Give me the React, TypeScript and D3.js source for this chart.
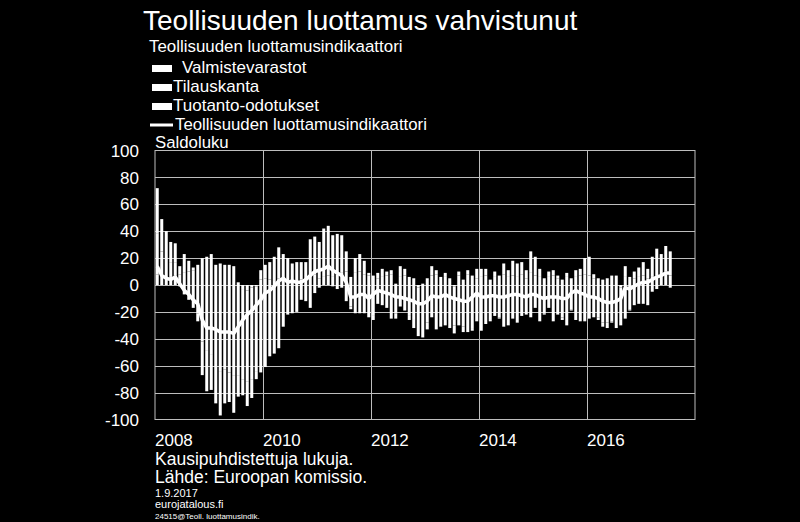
import React from 'react';
import * as d3 from 'd3';

// monthly data, Jan 2008 -> Jul 2017
const firstYear = 2008;

const valmistevarastot = [
  8, 6, 5, 6, 7, 8, 9, 10, 11, 15,
  20, 21, 23, 15, 16, 15, 15, 14, 2, -3,
  -4, -2, -1, 4, 5, 4, 3, 5, 4, 3,
  2, 3, 4, 3, 6, 8, 5, 6, 7, 6,
  8, 9, 10, 6, 9, 10, 8, 7, 7, 5,
  6, 7, 8, 1, 6, 7, 6, 5, -2, 1,
  5, 7, 8, 6, 6, 5, -1, 7, 4, 8,
  7, 5, 6, 7, 4, 6, 7, 8, 6, 7,
  6, 8, 5, 9, 7, 6, 5, 6, 7, 5,
  4, 6, 5, 6, 7, 8, 7, 5, 5, 4,
  5, 7, 7, -2, 6, 6, 5, 6, 7, 5,
  6, 7, 6, 8, 7,
];

const tilauskanta = [
  30, 19, 15, 11, 10, -1, -7, -11, -17, -21,
  -42, -49, -52, -58, -64, -63, -65, -67, -67, -67,
  -68, -68, -63, -65, -61, -53, -51, -47, -31, -22,
  -21, -20, -11, -12, -17, -6, -2, 6, 6, -1,
  -3, -2, -12, -16, -21, -21, -21, -24, -23, -14,
  -15, -17, -25, -21, -16, -19, -23, -26, -27, -29,
  -28, -24, -33, -29, -30, -29, -29, -30, -31, -35,
  -32, -27, -34, -29, -26, -23, -24, -31, -30, -25,
  -28, -23, -22, -24, -17, -27, -21, -17, -27, -22,
  -24, -30, -18, -26, -27, -27, -25, -24, -24, -28,
  -28, -27, -29, -24, -25, -18, -15, -14, -14, -15,
  -5, -3, 1, 2, -2,
];

const tuotantoOdotukset = [
  34, 24, 20, 15, 14, 6, 14, 8, 2, -6,
  -25, -30, -26, -30, -33, -25, -22, -28, -16, -12,
  -18, -14, -6, 7, 10, 13, 18, 23, 19, 17,
  14, 14, 13, 14, 28, 28, 27, 30, 31, 31,
  30, 28, 15, -2, 11, 13, 10, 2, -3, 4,
  6, 3, 3, -4, 8, 5, -3, -6, -9, -10,
  -5, 7, 3, -2, 3, -3, -6, 3, -4, 3,
  -2, 7, 6, 5, -1, 4, -1, 8, 5, 11,
  10, 9, 6, 16, 14, 6, -1, 4, 4, 2,
  -2, 3, -1, 5, 5, 12, 14, 3, -2, -3,
  -4, -1, -3, -4, 8, -1, 5, 7, 10, 7,
  15, 20, 16, 19, 18,
];

const luottamus = [
  14, 7, 5, 4, 6, 1, -4, -7, -11, -14,
  -26, -32, -32, -33, -35, -35, -35, -36, -31, -26,
  -22, -19, -15, -11, -6, -4, -1, 3, 5, 2,
  3, 2, 2, 4, 7, 10, 11, 12, 14, 11,
  9, 7, 2, -9, -9, -7, -7, -10, -7, -4,
  -5, -6, -7, -9, -9, -10, -11, -12, -14, -14,
  -12, -8, -9, -9, -7, -9, -10, -11, -12, -12,
  -9, -6, -9, -9, -8, -8, -9, -9, -8, -7,
  -7, -8, -9, -7, -7, -9, -10, -9, -9, -9,
  -10, -10, -6, -4, -6, -7, -9, -9, -10, -12,
  -13, -13, -12, -10, -2, -3, -1, 1, 2, 2,
  4, 6, 7, 9, 9,
];

const yTicks = [100, 80, 60, 40, 20, 0, -20, -40, -60, -80, -100];
const yearLabels = [2008, 2010, 2012, 2014, 2016];

const legendBars = ['Valmistevarastot', 'Tilauskanta', 'Tuotanto-odotukset'];

const font = "'Liberation Sans', Arial, sans-serif";
const gridColor = '#bdbdbd';

export default function App() {
  const left = 155, right = 695, top = 150.5, bottom = 419.5;

  // x in months since Jan 2008, ten years on the axis
  const x = d3.scaleLinear().domain([0, 120]).range([left, right]);
  const y = d3.scaleLinear().domain([-100, 100]).range([bottom, top]);

  const rows = luottamus.map((_, i) => ({
    i,
    valmistevarastot: valmistevarastot[i],
    tilauskanta: tilauskanta[i],
    tuotanto: tuotantoOdotukset[i],
  }));

  const stacked = d3.stack<any>()
    .keys(['valmistevarastot', 'tilauskanta', 'tuotanto'])
    .offset(d3.stackOffsetDiverging)(rows);

  const monthW = x(1) - x(0);
  const barW = 3;

  const linePath = d3.line<number>()
    .x((_, i) => x(i + 0.5))
    .y(v => y(v))(luottamus);

  return (
    <div style={{ position: 'fixed', left: 0, top: 0, width: 800, height: 522, background: '#000' }}>
      <svg width={800} height={522} style={{ display: 'block' }} fontFamily={font}>
        <rect x={0} y={0} width={800} height={522} fill="#000" />

        <text x={143} y={30} fill="#fff" fontSize={28}>Teollisuuden luottamus vahvistunut</text>
        <text x={149} y={52} fill="#fff" fontSize={16.9}>Teollisuuden luottamusindikaattori</text>

        {legendBars.map((name, i) => (
          <g key={name}>
            <rect x={152} y={65 + i * 19} width={20} height={7} fill="#fff" />
            <text x={i === 0 ? 182 : 173} y={73 + i * 19} fill="#fff" fontSize={17}>{name}</text>
          </g>
        ))}
        <line x1={150} x2={173} y1={125} y2={125} stroke="#fff" strokeWidth={3} />
        <text x={175} y={130} fill="#fff" fontSize={16.8}>Teollisuuden luottamusindikaattori</text>
        <text x={155} y={148} fill="#fff" fontSize={16.8}>Saldoluku</text>

        {/* grid */}
        {yTicks.filter(t => t !== 100 && t !== -100).map(t => (
          <line key={t} x1={left} x2={right} y1={Math.round(y(t)) + 0.5} y2={Math.round(y(t)) + 0.5} stroke={gridColor} strokeWidth={1} />
        ))}
        {yearLabels.filter(yr => yr !== firstYear).map(yr => {
          const xx = Math.round(x((yr - firstYear) * 12)) + 0.5;
          return <line key={yr} x1={xx} x2={xx} y1={top} y2={bottom} stroke={gridColor} strokeWidth={1} />;
        })}
        <rect x={left} y={top} width={right - left} height={bottom - top} fill="none" stroke={gridColor} strokeWidth={1} />

        {/* bars */}
        {stacked.map(s => (
          <g key={s.key} fill="#fff">
            {s.map((d, i) => d[1] === d[0] ? null : (
              <rect key={i}
                x={x(i) + (monthW - barW) / 2}
                width={barW}
                y={y(Math.max(d[0], d[1]))}
                height={Math.abs(y(d[0]) - y(d[1]))} />
            ))}
          </g>
        ))}

        <path d={linePath ?? ''} fill="none" stroke="#fff" strokeWidth={3.5} strokeLinejoin="round" />

        {/* axes labels */}
        {yTicks.map(t => (
          <text key={t} x={139} y={y(t)} dy="0.36em" textAnchor="end" fill="#fff" fontSize={17}>{t}</text>
        ))}
        {yearLabels.map(yr => (
          <text key={yr} x={x((yr - firstYear) * 12)} y={446} fill="#fff" fontSize={17}>{yr}</text>
        ))}

        <text x={155} y={465} fill="#fff" fontSize={17.5}>Kausipuhdistettuja lukuja.</text>
        <text x={155} y={483} fill="#fff" fontSize={17.5}>Lähde: Euroopan komissio.</text>
        <text x={155} y={497} fill="#fff" fontSize={11}>1.9.2017</text>
        <text x={155} y={508} fill="#fff" fontSize={11}>eurojatalous.fi</text>
        <text x={155} y={519} fill="#fff" fontSize={8}>24515@Teoll.  luottamusindik.</text>
      </svg>
    </div>
  );
}
